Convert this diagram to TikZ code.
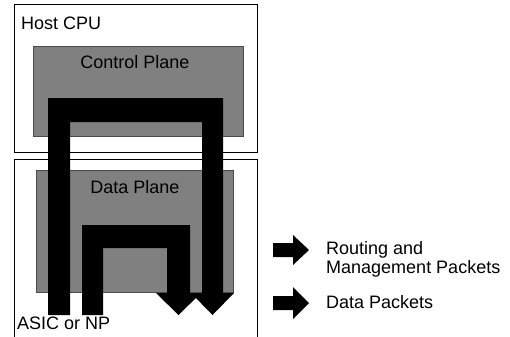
\documentclass[tikz,border=0pt]{standalone}
\usepackage{fontspec}
\setmainfont{Liberation Sans}
\begin{document}
\begin{tikzpicture}[x=1bp,y=-1bp,
  frame/.style={draw=black,line width=0.8bp},
  plane/.style={draw=black!70,line width=0.6bp,fill=black!50},
  flow/.style={fill=black,draw=none},
  lbl/.style={inner sep=0pt,font=\fontsize{18bp}{19bp}\selectfont}
]
\useasboundingbox (0,0) rectangle (510,336);
% boxes
\draw[frame] (14,4) rectangle (257,152);
\draw[frame] (14,159) rectangle (257,340);
\draw[plane] (33,46) rectangle (243,136);
\draw[plane] (36,170) rectangle (233,292);
% labels
\node[lbl,anchor=base west] (host) at (21,29) {Host CPU};
\node[lbl,anchor=base west] (asic) at (17,329) {ASIC or NP};
\node[lbl] (cp) at (135,62) {Control Plane};
\node[lbl] (dp) at (135,187) {Data Plane};
% routing and management flow
\fill[flow] (48,315) -- (48,98) -- (223,98) -- (223,293) -- (234,293) -- (212.5,315)
  -- (191,293) -- (202,293) -- (202,122) -- (70,122) -- (70,315) -- cycle;
% data flow
\fill[flow] (82,315) -- (82,225) -- (190,225) -- (190,293) -- (201,293) -- (178.5,315)
  -- (156,293) -- (167,293) -- (167,248) -- (103,248) -- (103,315) -- cycle;
% legend
\fill[flow] (273,243) -- (293,243) -- (293,235) -- (309,250) -- (293,265) -- (293,257) -- (273,257) -- cycle;
\fill[flow] (273,296) -- (293,296) -- (293,287) -- (309,303) -- (293,319) -- (293,310) -- (273,310) -- cycle;
\node[lbl,anchor=west,align=left] (lr) at (326,259) {Routing and\\Management Packets};
\node[lbl,anchor=base west] (ld) at (326,308) {Data Packets};
\end{tikzpicture}
\end{document}
